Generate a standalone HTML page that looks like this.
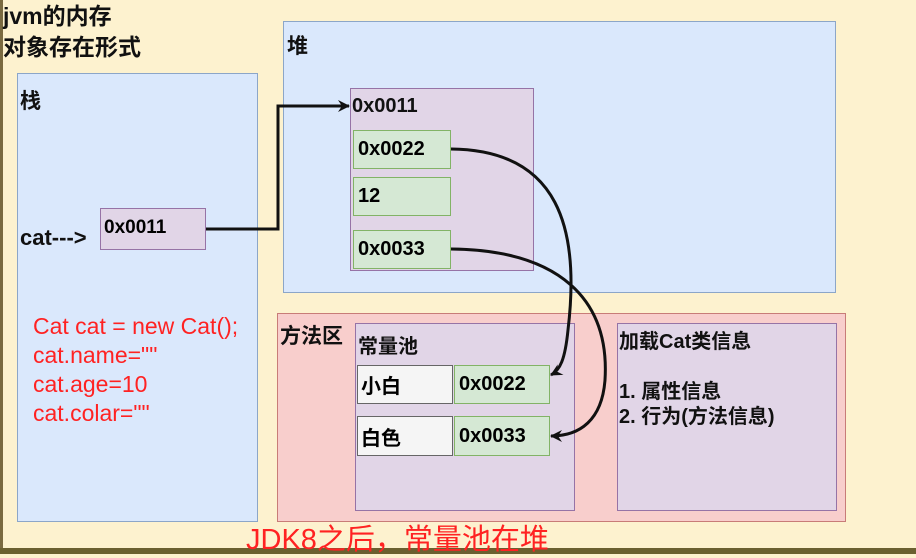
<!DOCTYPE html>
<html><head><meta charset="utf-8"><style>
body{margin:0;width:916px;height:554px;background:#fdf2cf;position:relative;overflow:hidden;font-family:"Liberation Sans","Noto Sans CJK SC",sans-serif;}
.b{position:absolute;box-sizing:border-box;}
.t{position:absolute;font-weight:bold;color:#111;white-space:nowrap;}
.g{background:#d5e8d4;border:1px solid #82b366;font-weight:bold;font-size:20px;padding-left:4px;display:flex;align-items:center;}
.w{background:#f5f5f5;border:1px solid #666;font-weight:bold;font-size:20px;padding-left:3px;display:flex;align-items:center;}
</style></head><body>
<div class="b" style="left:0;top:0;width:3px;height:554px;background:#7a6a40"></div>
<div class="b" style="left:0;top:548px;width:916px;height:6px;background:#6b6030"></div>
<div class="t" style="left:3px;top:1px;font-size:23px;line-height:31px">jvm的内存<br>对象存在形式</div>
<div class="b" style="left:17px;top:73px;width:241px;height:449px;background:#dae8fc;border:1px solid #8ca6c8"></div>
<div class="t" style="left:20px;top:85px;font-size:21px">栈</div>
<div class="t" style="left:20px;top:225px;font-size:22px">cat---&gt;</div>
<div class="b" style="left:100px;top:208px;width:106px;height:42px;background:#e1d5e7;border:1px solid #9673a6;font-weight:bold;font-size:19px;padding:8px 0 0 3px">0x0011</div>
<div class="b" style="left:33px;top:312px;color:#f22;font-size:23px;line-height:29px">Cat cat = new Cat();<br>cat.name=""<br>cat.age=10<br>cat.colar=""</div>
<div class="b" style="left:283px;top:21px;width:553px;height:272px;background:#dae8fc;border:1px solid #8ca6c8"></div>
<div class="t" style="left:287px;top:30px;font-size:21px">堆</div>
<div class="b" style="left:350px;top:88px;width:184px;height:183px;background:#e1d5e7;border:1px solid #9673a6"></div>
<div class="t" style="left:352px;top:95px;font-size:20px">0x0011</div>
<div class="b g" style="left:353px;top:130px;width:98px;height:39px">0x0022</div>
<div class="b g" style="left:353px;top:177px;width:98px;height:39px">12</div>
<div class="b g" style="left:353px;top:230px;width:98px;height:39px">0x0033</div>
<div class="b" style="left:277px;top:313px;width:569px;height:209px;background:#f8cecc;border:1px solid #c87c78"></div>
<div class="t" style="left:280px;top:320px;font-size:21px">方法区</div>
<div class="b" style="left:355px;top:323px;width:220px;height:188px;background:#e1d5e7;border:1px solid #9673a6"></div>
<div class="t" style="left:358px;top:330px;font-size:20px">常量池</div>
<div class="b w" style="left:357px;top:365px;width:96px;height:39px">小白</div>
<div class="b g" style="left:454px;top:365px;width:96px;height:39px">0x0022</div>
<div class="b w" style="left:357px;top:416px;width:96px;height:40px">白色</div>
<div class="b g" style="left:454px;top:416px;width:96px;height:40px">0x0033</div>
<div class="b" style="left:617px;top:323px;width:220px;height:188px;background:#e1d5e7;border:1px solid #9673a6"></div>
<div class="t" style="left:619px;top:330px;font-size:20px;line-height:25px">加载Cat类信息<br><br>1. 属性信息<br>2. 行为(方法信息)</div>
<div class="b" style="left:246px;top:516px;color:#f22;font-size:29px;white-space:nowrap">JDK8之后，常量池在堆</div>
<svg class="b" style="left:0;top:0" width="916" height="554">
<defs><marker id="a" markerWidth="14" markerHeight="14" refX="11" refY="6" orient="auto" markerUnits="userSpaceOnUse"><path d="M0,0 L12,6 L0,12 L4,6z" fill="#111"/></marker></defs>
<g fill="none" stroke="#111" stroke-width="3">
<path d="M206,229 H278 V106 H349" marker-end="url(#a)"/>
<path d="M451,149 C560,150 580,230 568,330 C565,360 560,370 551,375" marker-end="url(#a)"/>
<path d="M451,249 C560,250 610,300 605,380 C602,420 580,436 551,436" marker-end="url(#a)"/>
</g></svg>
</body></html>
